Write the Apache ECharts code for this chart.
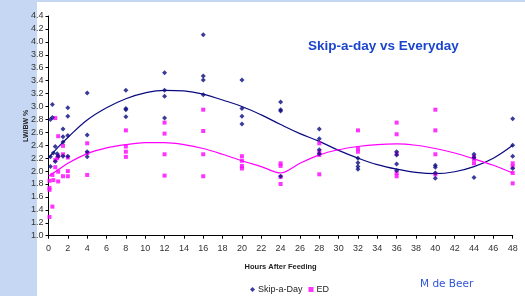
<!DOCTYPE html>
<html>
<head>
<meta charset="utf-8">
<script src="https://cdn.jsdelivr.net/npm/echarts@6/dist/echarts.min.js"></script>
<style>
  html, body { margin: 0; padding: 0; background: #fff; }
  #chart { width: 525px; height: 296px; }
</style>
</head>
<body>
<div id="chart"></div>
<script>
// Hours after feeding / LW/BW % readings
const skipPoints = [
  [0.2, 2.8], [0.2, 2.22], [0.2, 2.07],
  [0.4, 3.03], [0.4, 2.83], [0.5, 2.28],
  [0.7, 2.38], [0.7, 2.15], [0.9, 2.27], [1, 2.23],
  [1.5, 2.65], [1.5, 2.53], [1.5, 2.45], [1.5, 2.23],
  [2, 2.98], [2, 2.85], [2, 2.55], [2, 2.23],
  [4, 3.21], [4, 2.56], [4, 2.3], [4, 2.22],
  [8, 3.25], [8, 2.97], [8, 2.95], [8, 2.84],
  [12, 3.52], [12, 3.25], [12, 3.16], [12, 2.82],
  [16, 4.11], [16, 3.47], [16, 3.41], [16, 3.18],
  [20, 3.41], [20, 2.97], [20, 2.85], [20, 2.73],
  [24, 3.07], [24, 2.95], [24, 2.93], [24, 1.92],
  [28, 2.65], [28, 2.5], [28, 2.33], [28, 2.27],
  [32, 2.2], [32, 2.13], [32, 2.07], [32, 2.03],
  [36, 2.3], [36, 2.25], [36, 2.11], [36, 2.01],
  [40, 2.09], [40, 2.06], [40, 1.97], [40, 1.89],
  [44, 2.26], [44, 2.21], [44, 1.9],
  [48, 2.81], [48, 2.4], [48, 2.23], [48, 2.04]
]

const edPoints = [
  [0.1, 1.85], [0.1, 1.74], [0.1, 1.71], [0.1, 1.29],
  [0.4, 1.45], [0.4, 1.94], [0.5, 1.86],
  [0.7, 2.82], [0.7, 2.17], [0.7, 2.06],
  [0.9, 2.2], [1, 2.54], [1, 2.23], [1, 1.99], [1, 1.84],
  [1.5, 2.39], [1.5, 2.26], [1.5, 1.92],
  [2, 2.21], [2, 2.0], [2, 1.92],
  [4, 2.43], [4, 2.28], [4, 1.94],
  [8, 2.63], [8, 2.38], [8, 2.3], [8, 2.22],
  [12, 2.75], [12, 2.58], [12, 2.26], [12, 1.93],
  [16, 2.95], [16, 2.62], [16, 2.26], [16, 1.92],
  [20, 2.23], [20, 2.16], [20, 2.08], [20, 2.04],
  [24, 2.12], [24, 2.08], [24, 1.91], [24, 1.8],
  [28, 2.43], [28, 2.3], [28, 2.25], [28, 1.95],
  [32, 2.63], [32, 2.35], [32, 2.3],
  [36, 2.75], [36, 2.57], [36, 2.27], [36, 1.97], [36, 1.92],
  [40, 2.95], [40, 2.63], [40, 2.26], [40, 1.95],
  [44, 2.22], [44, 2.18], [44, 2.12],
  [48, 2.12], [48, 2.07], [48, 1.97], [48, 1.81]
]

// trend lines, read at these hours
const trendHours = [0, 1, 2, 4, 6, 8, 10, 12, 14, 16, 18, 20, 22, 24, 26, 28, 30, 32, 34, 36, 38, 40, 42, 44, 46, 48]
const skipTrend = [2.2, 2.37, 2.52, 2.79, 2.98, 3.12, 3.21, 3.25, 3.24, 3.19, 3.1, 3.0, 2.87, 2.72, 2.58, 2.46, 2.32, 2.2, 2.1, 2.03, 1.98, 1.96, 1.99, 2.07, 2.2, 2.4]
const edTrend = [1.92, 2.02, 2.12, 2.27, 2.36, 2.41, 2.44, 2.44, 2.41, 2.35, 2.26, 2.16, 2.07, 1.97, 2.12, 2.25, 2.33, 2.38, 2.41, 2.42, 2.4, 2.35, 2.28, 2.19, 2.09, 1.97]

const navy = '#0a0a80'
const magenta = '#ff00ff'

const chart = echarts.init(document.getElementById('chart'))

chart.setOption({
  backgroundColor: '#fff',
  animation: false,
  textStyle: { fontFamily: 'Liberation Sans, Arial, sans-serif' },
  graphic: [
    // light blue slide frame on the left and top
    { type: 'rect', left: 0, top: 0, shape: { width: 37, height: 296 }, style: { fill: '#c5d7f2' }, silent: true },
    { type: 'rect', left: 0, top: 0, shape: { width: 525, height: 2 }, style: { fill: '#c5d7f2' }, silent: true },
    {
      type: 'text', left: 420, top: 279,
      style: { text: 'M de Beer', fill: '#2f55d8', font: '10.5px "DejaVu Sans", sans-serif' }
    }
  ],
  title: {
    text: 'Skip-a-day vs Everyday',
    left: 303,
    top: 34,
    textStyle: { color: '#1b45cc', fontSize: 13.5, fontWeight: 'bold', fontFamily: 'Liberation Sans, Arial, sans-serif' }
  },
  legend: {
    data: [
      { name: 'Skip-a-Day', icon: 'diamond' },
      { name: 'ED', icon: 'rect' }
    ],
    left: 245,
    top: 280,
    itemWidth: 5,
    itemHeight: 5,
    itemGap: 6,
    textStyle: { fontSize: 9, color: '#222', padding: [0, 0, 0, -2] }
  },
  grid: {
    left: 48.5,
    right: 12.3,
    top: 16,
    bottom: 60.3
  },
  xAxis: {
    type: 'value',
    min: 0,
    max: 48,
    interval: 2,
    name: 'Hours After Feeding',
    nameLocation: 'middle',
    nameGap: 27,
    nameTextStyle: { fontSize: 7.5, fontWeight: 'bold', color: '#222' },
    axisLine: { lineStyle: { color: '#000', width: 1 } },
    axisTick: { show: true, length: 3, lineStyle: { color: '#000' } },
    axisLabel: { fontSize: 9, color: '#333', margin: 8 },
    splitLine: { show: false }
  },
  yAxis: {
    type: 'value',
    min: 1.0,
    max: 4.4,
    interval: 0.2,
    name: 'LW/BW %',
    nameLocation: 'middle',
    nameGap: 19,
    nameMoveOverlap: false,
    nameTextStyle: { fontSize: 7, fontWeight: 'bold', color: '#222' },
    axisLine: { show: true, lineStyle: { color: '#000', width: 1 } },
    axisTick: { show: true, length: 3, lineStyle: { color: '#000' } },
    axisLabel: { fontSize: 9, color: '#333', margin: 5, formatter: v => v.toFixed(1) },
    splitLine: { show: false }
  },
  series: [
    {
      name: 'Skip-a-Day trend',
      type: 'line',
      data: trendHours.map((h, i) => [h, skipTrend[i]]),
      smooth: 0.4,
      showSymbol: false,
      silent: true,
      lineStyle: { color: navy, width: 1.2 },
      z: 1
    },
    {
      name: 'ED trend',
      type: 'line',
      data: trendHours.map((h, i) => [h, edTrend[i]]),
      smooth: 0.3,
      showSymbol: false,
      silent: true,
      lineStyle: { color: magenta, width: 1.2 },
      z: 1
    },
    {
      name: 'ED',
      type: 'scatter',
      data: edPoints,
      symbol: 'rect',
      symbolSize: 4,
      itemStyle: { color: magenta },
      z: 2
    },
    {
      name: 'Skip-a-Day',
      type: 'scatter',
      data: skipPoints,
      symbol: 'diamond',
      symbolSize: 5,
      itemStyle: { color: navy },
      z: 3
    }
  ]
})
</script>
</body>
</html>
